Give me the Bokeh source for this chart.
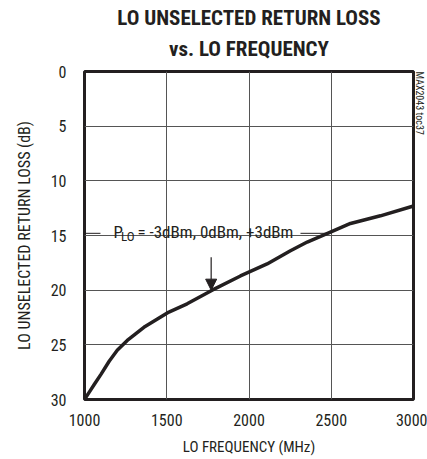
import math
from bokeh.plotting import figure
from bokeh.models import Label, Arrow, NormalHead, Range1d, FixedTicker, Title
from bokeh.embed import file_html
from bokeh.resources import INLINE

# data
freq_mhz = [1000, 1030, 1060, 1100, 1150, 1199, 1260, 1361, 1513, 1624, 1776, 1948, 2110, 2252, 2354, 2495, 2617, 2799, 3000]
return_loss_db = [30.0, 29.3, 28.6, 27.7, 26.5, 25.5, 24.6, 23.4, 22.0, 21.25, 20.0, 18.7, 17.6, 16.4, 15.6, 14.7, 13.9, 13.2, 12.3]
x_ticks = [1000, 1500, 2000, 2500, 3000]
y_ticks = [0, 5, 10, 15, 20, 25, 30]
arrow_x = 1770
arrow_from = 17.0
arrow_to = 20.0

FONT = "Roboto Condensed"
INK = "#231f20"

p = figure(frame_width=329, frame_height=328, output_backend="svg", toolbar_location=None,
           x_range=Range1d(1000, 3000), y_range=Range1d(30, 0),
           min_border_left=84, min_border_right=14, min_border_top=71, min_border_bottom=54)
p.title.visible = False
p.add_layout(Title(text="vs. LO FREQUENCY", align="center", text_font=FONT, text_font_size="21px",
                   text_font_style="bold", text_color=INK, standoff=22, offset=0), "above")
p.add_layout(Title(text="LO UNSELECTED RETURN LOSS", align="center", text_font=FONT,
                   text_font_size="21px", text_font_style="bold", text_color=INK,
                   standoff=-12, offset=0), "above")

p.add_layout(Title(text="MAX2043 toc37", align="left", text_font=FONT, text_font_size="10px",
                   text_font_style="normal", text_color=INK, standoff=0, offset=0), "right")

p.xaxis.ticker = FixedTicker(ticks=x_ticks)
p.yaxis.ticker = FixedTicker(ticks=y_ticks)
for ax in (p.xaxis, p.yaxis):
    ax.major_tick_line_color = None
    ax.minor_tick_line_color = None
    ax.axis_line_color = None
    ax.major_label_text_font = FONT
    ax.major_label_text_font_size = "16px"
    ax.major_label_text_color = INK
    ax.axis_label_text_font = FONT
    ax.axis_label_text_font_size = "16px"
    ax.axis_label_text_font_style = "normal"
    ax.axis_label_text_color = INK
p.xaxis.axis_label = "LO FREQUENCY (MHz)"
p.yaxis.axis_label = "LO UNSELECTED RETURN LOSS (dB)"
p.xaxis.axis_label_text_font_size = "15px"
p.xaxis.major_label_standoff = 8
p.yaxis.major_label_standoff = 12
p.xaxis.axis_label_standoff = 9
p.yaxis.axis_label_standoff = 14

p.grid.grid_line_color = "#555555"
p.grid.grid_line_width = 1
p.grid.grid_line_alpha = 1
p.outline_line_color = INK
p.outline_line_width = 3
p.background_fill_color = "white"
p.border_fill_color = "white"

p.line(freq_mhz, return_loss_db, line_color=INK, line_width=3.5, line_join="round")

# annotation
p.add_layout(Label(x=1176, y=14.7, text="P", text_font=FONT, text_font_size="17px",
                   text_color=INK, text_baseline="alphabetic"))
p.add_layout(Label(x=1222, y=15.1, text="LO", text_font=FONT, text_font_size="13px",
                   text_color=INK, text_baseline="alphabetic"))
p.add_layout(Label(x=1322, y=14.7, text=" = -3dBm, 0dBm, +3dBm", text_font=FONT,
                   text_font_size="17px", text_color=INK, text_baseline="alphabetic"))
p.segment(x0=[1006, 2313], y0=[14.8, 14.8], x1=[1097, 2483], y1=[14.8, 14.8],
          line_color=INK, line_width=1)
p.add_layout(Arrow(x_start=arrow_x, y_start=arrow_from, x_end=arrow_x, y_end=arrow_to,
                   line_color=INK, line_width=1.2,
                   end=NormalHead(size=11, fill_color=INK, line_color=INK)))

open("out.html", "w").write(file_html(p, INLINE))
